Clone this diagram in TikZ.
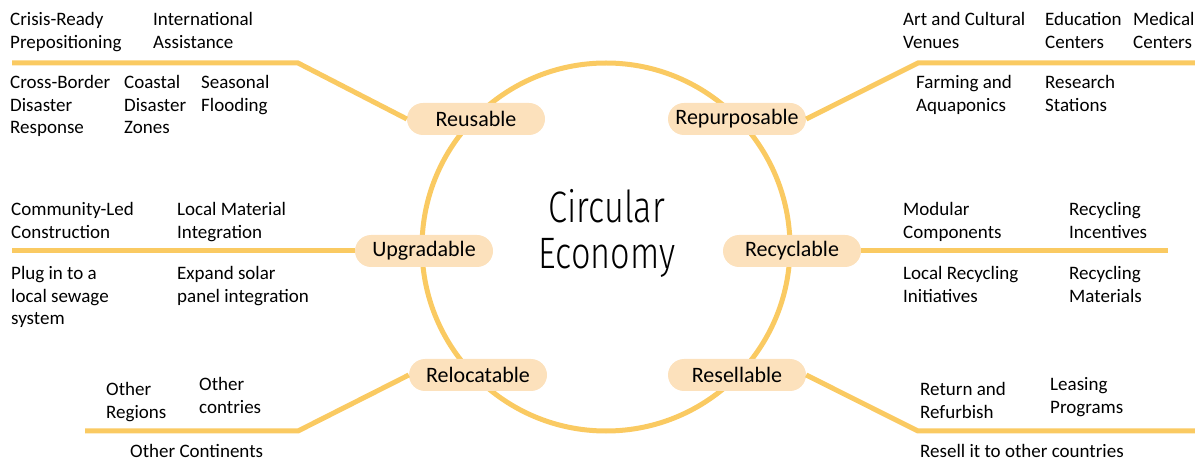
\documentclass[tikz,border=0pt]{standalone}
\usepackage{fontspec}
\setmainfont{Carlito}
\newfontfamily\titlefont{Fira Sans Light}
\usetikzlibrary{math}
\definecolor{branchyellow}{RGB}{250,202,98}
\definecolor{hubpeach}{RGB}{252,225,188}

\begin{document}
\begin{tikzpicture}[x=1pt,y=-1pt,
  branch/.style={draw=branchyellow, line width=5pt},
  hub/.style={fill=hubpeach, rounded corners=16pt, minimum width=138pt, minimum height=32pt, inner sep=0pt, font=\fontsize{22}{24}\selectfont},
  item/.style={anchor=base west, align=left, inner sep=0pt, font=\fontsize{19}{22.5}\selectfont},
  title/.style={anchor=north, align=center, inner sep=0pt, font=\titlefont\fontsize{44}{46}\selectfont}]
\tikzmath{
\cx=606;
\cy=247;
\rad=184;
\ytop=63;
\ymid=251;
\ybot=431;
}
\useasboundingbox (0,0) rectangle (1195,462);

\draw[branch] (\cx,\cy) circle[radius=\rad];

\node[title] (ce) at (607,189) {\scalebox{0.78}[1]{Circular}\\\scalebox{0.78}[1]{Economy}};

\node[hub] (reuse) at (476,119) {Reusable\hspace{12pt}};
\node[hub] (repurpose) at (737,119) {Repurposable};
\node[hub] (upgrade) at (424,251) {Upgradable\hspace{6pt}};
\node[hub] (recycle) at (792,251) {Recyclable\hspace{10pt}};
\node[hub] (relocate) at (478,375) {Relocatable\hspace{6pt}};
\node[hub] (resell) at (737,375) {Resellable\hspace{14pt}};

\coordinate (reuseknee) at (298,\ytop);
\coordinate (reuseend) at (12,\ytop);
\coordinate (repurposeknee) at (918,\ytop);
\coordinate (repurposeend) at (1195,\ytop);
\coordinate (upgradeend) at (12,\ymid);
\coordinate (recycleend) at (1168,\ymid);
\coordinate (relocateknee) at (298,\ybot);
\coordinate (relocateend) at (85,\ybot);
\coordinate (resellknee) at (918,\ybot);
\coordinate (resellend) at (1195,\ybot);

\draw[branch] (reuse.west) -- (reuseknee) -- (reuseend);
\draw[branch] (repurpose.east) -- (repurposeknee) -- (repurposeend);
\draw[branch] (upgrade.west) -- (upgradeend);
\draw[branch] (recycle.east) -- (recycleend);
\draw[branch] (relocate.west) -- (relocateknee) -- (relocateend);
\draw[branch] (resell.east) -- (resellknee) -- (resellend);

\node[item] (crisis) at (10,48.5) {Crisis-Ready\\Prepositioning};
\node[item] (intl) at (153,48.5) {International\\Assistance};
\node[item] (border) at (10,134) {Cross-Border\\Disaster\\Response};
\node[item] (coastal) at (124,134) {Coastal\\Disaster\\Zones};
\node[item] (flood) at (201,111.5) {Seasonal\\Flooding};

\node[item] (art) at (903,48.5) {Art and Cultural\\Venues};
\node[item] (edu) at (1045,48.5) {Education\\Centers};
\node[item] (medical) at (1133,48.5) {Medical\\Centers};
\node[item] (farm) at (916,111.5) {Farming and\\Aquaponics};
\node[item] (research) at (1045,111.5) {Research\\Stations};

\node[item] (community) at (11,238.5) {Community-Led\\Construction};
\node[item] (material) at (177,238.5) {Local Material\\Integration};
\node[item] (sewage) at (11,325) {Plug in to a\\local sewage\\system};
\node[item] (solar) at (177,302.5) {Expand solar\\panel integration};

\node[item] (modular) at (903,238.5) {Modular\\Components};
\node[item] (incentive) at (1069,238.5) {Recycling\\Incentives};
\node[item] (localrec) at (903,302.5) {Local Recycling\\Initiatives};
\node[item] (recmat) at (1069,302.5) {Recycling\\Materials};

\node[item] (regions) at (106,418.5) {Other\\Regions};
\node[item] (countries) at (199,413.5) {Other\\contries};
\node[item] (continents) at (130,457) {Other Continents};

\node[item] (refurb) at (920,418.5) {Return and\\Refurbish};
\node[item] (leasing) at (1050,413.5) {Leasing\\Programs};
\node[item] (resellit) at (920,457) {Resell it to other countries};
\end{tikzpicture}
\end{document}
